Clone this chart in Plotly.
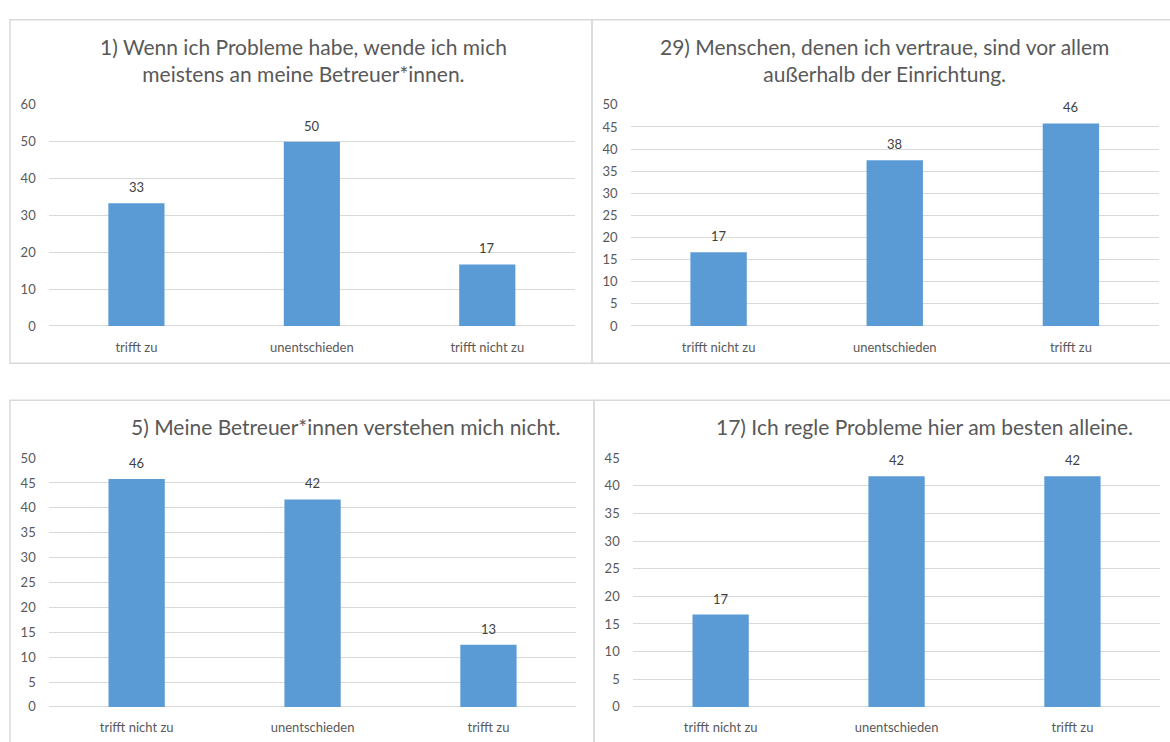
import plotly.graph_objects as go

W, H = 1170, 742

# ---- data ----
titles = [
    "1) Wenn ich Probleme habe, wende ich mich<br>meistens an meine Betreuer*innen.",
    "29) Menschen, denen ich vertraue, sind vor allem<br>außerhalb der Einrichtung.",
    "5) Meine Betreuer*innen verstehen mich nicht.",
    "17) Ich regle Probleme hier am besten alleine.",
]
cats_1 = ["trifft zu", "unentschieden", "trifft nicht zu"]
vals_1 = [33.3, 50.0, 16.7]
cats_29 = ["trifft nicht zu", "unentschieden", "trifft zu"]
vals_29 = [16.7, 37.5, 45.8]
cats_5 = ["trifft nicht zu", "unentschieden", "trifft zu"]
vals_5 = [45.8, 41.7, 12.5]
cats_17 = ["trifft nicht zu", "unentschieden", "trifft zu"]
vals_17 = [16.7, 41.7, 41.7]
y_max = [60, 50, 50, 45]
y_step = [10, 5, 5, 5]

# ---- layout geometry (pixels) ----
def px(x):
    return x / W

def py(y):
    return 1 - y / H

panels = [
    dict(cats=cats_1, vals=vals_1, xd=[px(48.7), px(575)], yd=[py(325), py(99)],
         title_xy=(303, 53), box=(10, 12, 592, 363)),
    dict(cats=cats_29, vals=vals_29, xd=[px(630.5), px(1159)], yd=[py(325), py(99)],
         title_xy=(884, 53), box=(592, 12, 1175, 363)),
    dict(cats=cats_5, vals=vals_5, xd=[px(48.7), px(576.4)], yd=[py(714.3), py(460)],
         title_xy=(345, 428), box=(10, 401, 594, 760)),
    dict(cats=cats_17, vals=vals_17, xd=[px(632.7), px(1160.4)], yd=[py(714.3), py(460)],
         title_xy=(924, 428), box=(594, 401, 1175, 760)),
]

FONT = "Lato"
GRAY = "#595959"
GRID = "#D9D9D9"
BAR = "#5B9BD5"

fig = go.Figure()
annotations = []
shapes = []

for i, p in enumerate(panels):
    n = "" if i == 0 else str(i + 1)
    fig.add_trace(go.Bar(
        x=p["cats"], y=p["vals"], marker=dict(color=BAR, line=dict(width=0)),
        xaxis="x" + n, yaxis="y" + n, showlegend=False, hoverinfo="x+y",
    ))
    fig.layout["xaxis" + n] = dict(
        domain=p["xd"], anchor="y" + n, type="category",
        range=[-0.5, 2.5], showgrid=False, zeroline=False, showline=False,
        ticks="outside", ticklen=9, tickcolor="rgba(0,0,0,0)",
        tickfont=dict(family=FONT, size=13, color=GRAY), fixedrange=True,
    )
    fig.layout["yaxis" + n] = dict(
        domain=p["yd"], anchor="x" + n, range=[0, y_max[i]], dtick=y_step[i],
        tick0=0, showgrid=True, gridcolor=GRID, gridwidth=1,
        zeroline=True, zerolinecolor=GRID, zerolinewidth=1, showline=False,
        ticks="", ticklabelstandoff=12,
        tickfont=dict(family=FONT, size=13, color=GRAY), fixedrange=True,
    )
    for c, v in zip(p["cats"], p["vals"]):
        annotations.append(dict(
            x=c, y=v, xref="x" + n, yref="y" + n, text=str(int(v + 0.5)),
            showarrow=False, yanchor="bottom", yshift=6,
            font=dict(family=FONT, size=13, color="#404040"),
        ))
    tx, ty = p["title_xy"]
    annotations.append(dict(
        x=px(tx), y=py(ty), xref="paper", yref="paper", text=titles[i],
        showarrow=False, xanchor="center", yanchor="middle", align="center",
        font=dict(family=FONT, size=21, color=GRAY),
    ))
    x0, y0, x1, y1 = p["box"]
    shapes.append(dict(
        type="rect", xref="paper", yref="paper",
        x0=px(x0), x1=px(x1), y0=py(y1), y1=py(y0),
        line=dict(color=GRID, width=1.5), fillcolor="rgba(0,0,0,0)", layer="below",
    ))

fig.update_layout(
    width=W, height=H, margin=dict(l=0, r=0, t=0, b=0),
    paper_bgcolor="white", plot_bgcolor="white",
    bargap=0.68, annotations=annotations, shapes=shapes,
    font=dict(family=FONT, color=GRAY),
)

# remove the browser's default 8px body margin so the figure sits at (0, 0)
post = "document.body.style.margin='0'; document.body.style.overflow='hidden';"
fig.write_html("out.html", config={"displayModeBar": False}, post_script=post)
